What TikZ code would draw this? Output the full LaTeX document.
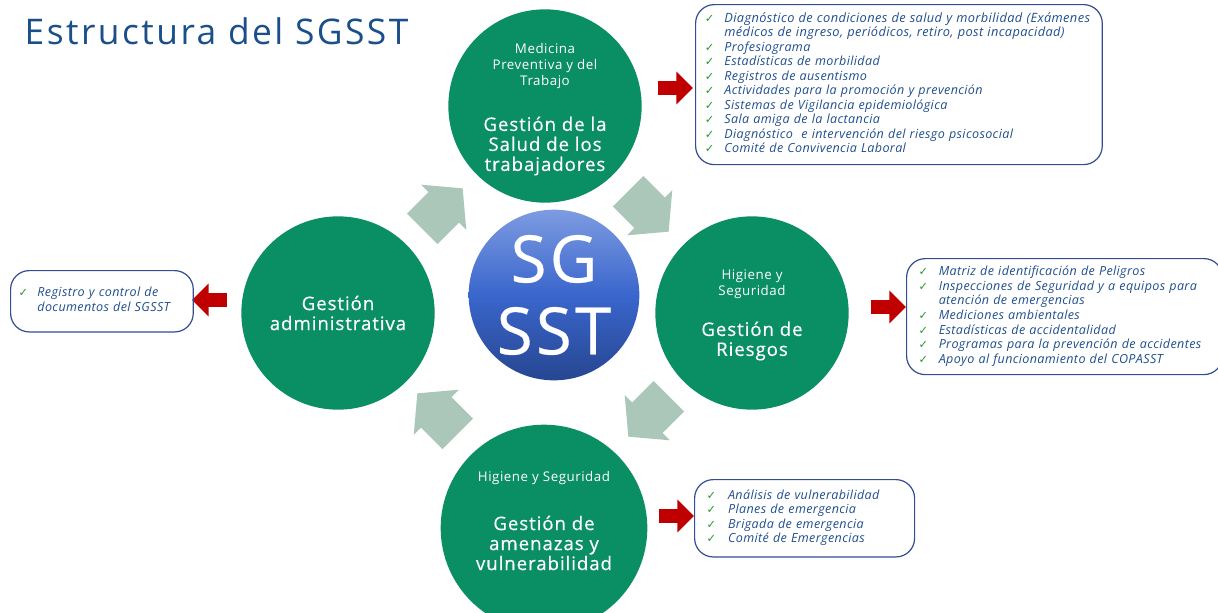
\documentclass[tikz,border=0pt]{standalone}
\usepackage{fontspec}
\setmainfont{Open Sans}
\newfontfamily\symfont{DejaVu Sans}
\newfontfamily\titfont[LetterSpace=7]{Open Sans}
\newfontfamily\circfont[LetterSpace=5,FakeBold=0.4]{Open Sans}
\newfontfamily\subfont[LetterSpace=4]{Open Sans}
\newfontfamily\listfont[LetterSpace=3]{Open Sans}
\usepackage{tikz}
\usetikzlibrary{shapes.arrows}
\usetikzlibrary{positioning}
\definecolor{verde}{RGB}{10,142,100}
\definecolor{grisverde}{RGB}{170,199,185}
\definecolor{rojo}{RGB}{192,0,0}
\definecolor{azultit}{RGB}{27,79,138}
\definecolor{azultxt}{RGB}{31,78,140}
\definecolor{marco}{RGB}{52,76,145}
\definecolor{chkverde}{RGB}{40,150,40}
\definecolor{sgclaro}{RGB}{125,155,225}
\definecolor{sgmedio}{RGB}{58,102,204}
\definecolor{sgoscuro}{RGB}{38,70,145}
\newcommand{\chk}{{\symfont\fontsize{8.5}{8}\selectfont\color{chkverde}✓}}
\newcommand{\grande}{\fontsize{9.6}{10.9}\selectfont}
\tikzstyle{gest}=[circle,fill=verde,minimum size=145pt,inner sep=0]
\tikzstyle{sub}=[text=white,font=\subfont\fontsize{10}{12}\selectfont,align=center]
\tikzstyle{tit}=[text=white,font=\circfont\fontsize{14}{15}\selectfont,align=center]
\tikzstyle{lista}=[draw=marco,line width=0.9pt,rounded corners=14pt,anchor=north west,
                 align=left,inner xsep=7pt,text=azultxt,font=\listfont\itshape\fontsize{9.4}{10.9}\selectfont]
\tikzstyle{flecha}=[single arrow,fill=rojo,minimum height=26pt,minimum width=22pt,inner sep=5pt]
\tikzstyle{ciclo}=[single arrow,fill=grisverde,minimum height=39pt,minimum width=48pt,
                 inner sep=14.5pt,single arrow tip angle=100]

\begin{document}
\begin{tikzpicture}[x=0.75pt,y=-0.75pt]
\useasboundingbox (0,0) rectangle (1218,612);

\node[anchor=west,text=azultit,font=\titfont\fontsize{26.5}{30}\selectfont] (titulo) at (20,31) {Estructura del SGSST};

% circulos
\node[gest] (salud) at (545,106) {};
\node[gest] (riesgos) at (752,313) {};
\node[gest] (admin) at (338,313) {};
\node[gest,minimum size=155pt] (amenazas) at (544,528) {};
\node[circle,minimum size=128pt,inner sep=0,top color=sgclaro,bottom color=sgoscuro,middle color=sgmedio,
      text=white,align=center,font=\circfont\fontsize{49}{54}\selectfont] (sgsst) at (554,295) {SG\\SST};

\node[sub] (salud1) at (545,66) {Medicina\\Preventiva y del\\Trabajo};
\node[tit] (salud2) at (545,146) {Gestión de la\\Salud de los\\trabajadores};
\node[sub] (riesgos1) at (752,284) {Higiene y\\Seguridad};
\node[tit] (riesgos2) at (752,341) {Gestión de\\Riesgos};
\node[tit] (admin1) at (338,313) {Gestión\\administrativa};
\node[sub] (amenazas1) at (544,478) {Higiene y Seguridad};
\node[tit] (amenazas2) at (544,543) {Gestión de\\amenazas y\\vulnerabilidad};

% flechas del ciclo
\node[ciclo,rotate=45] (g1) at (436,215) {};
\node[ciclo,rotate=-45] (g2) at (642,205) {};
\node[ciclo,rotate=-135] (g3) at (655,410) {};
\node[ciclo,rotate=135] (g4) at (444,420) {};

% flechas rojas
\node[flecha] (f1) at (672,88) {};
\node[flecha] (f2) at (885,307) {};
\node[flecha] (f3) at (673,516) {};
\node[flecha,rotate=180] (f4) at (213,300) {};

% listas
\node[lista,text width=291pt,minimum height=120pt] (l1) at (695,4) {%
\begin{tabular}{@{}l@{\hspace{7.5pt}}l@{}}
\chk & \grande Diagnóstico de condiciones de salud y morbilidad (Exámenes\\
     & \grande médicos de ingreso, periódicos, retiro, post incapacidad)\\
\chk & Profesiograma\\
\chk & Estadísticas de morbilidad\\
\chk & Registros de ausentismo\\
\chk & Actividades para la promoción y prevención\\
\chk & Sistemas de Vigilancia epidemiológica\\
\chk & Sala amiga de la lactancia\\
\chk & Diagnóstico\ \ e intervención del riesgo psicosocial\\
\chk & Comité de Convivencia Laboral
\end{tabular}};
\node[lista,text width=219pt,inner xsep=9pt,minimum height=87pt] (l2) at (906,258) {%
\begin{tabular}{@{}l@{\hspace{8pt}}l@{}}
\chk & Matriz de identificación de Peligros\\
\chk & Inspecciones de Seguridad y a equipos para\\
     & atención de emergencias\\
\chk & Mediciones ambientales\\
\chk & Estadísticas de accidentalidad\\
\chk & Programas para la prevención de accidentes\\
\chk & Apoyo al funcionamiento del COPASST
\end{tabular}};
\node[lista,text width=147pt,inner xsep=9pt,minimum height=58pt] (l3) at (694,479) {%
\begin{tabular}{@{}l@{\hspace{9pt}}l@{}}
\chk & Análisis de vulnerabilidad\\
\chk & Planes de emergencia\\
\chk & Brigada de emergencia\\
\chk & Comité de Emergencias
\end{tabular}};
\node[lista,text width=125pt,inner xsep=6pt,minimum height=46pt] (l4) at (10,270) {%
\begin{tabular}{@{}l@{\hspace{7pt}}l@{}}
\chk & Registro y control de\\
     & documentos del SGSST
\end{tabular}};
\end{tikzpicture}
\end{document}
